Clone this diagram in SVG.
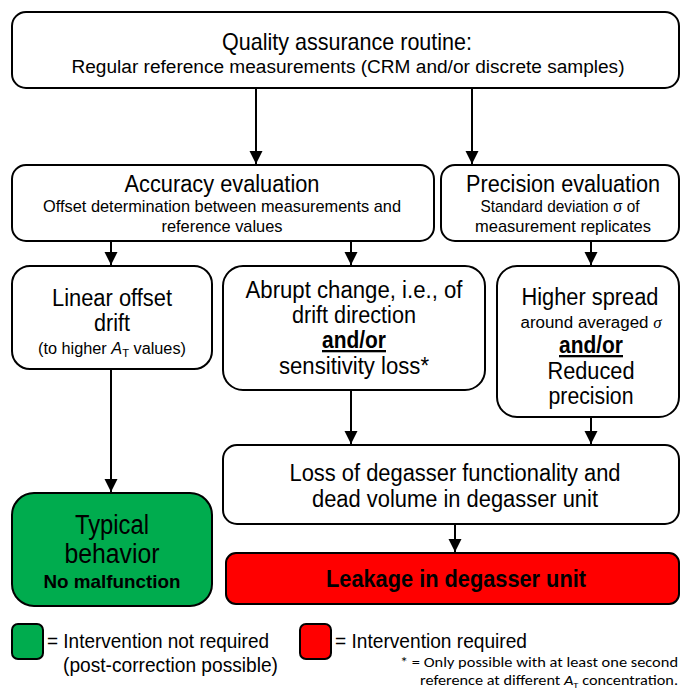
<svg xmlns="http://www.w3.org/2000/svg" width="681" height="689" viewBox="0 0 681 689">
<defs>
<style>
.box{fill:#fff;stroke:#000;stroke-width:2}
.t{font-family:"Liberation Sans Narrow","Liberation Sans",Arial,sans-serif;fill:#000;text-anchor:middle}
.s{text-anchor:start}
.cal{font-family:Carlito,Lato,"Liberation Sans",sans-serif;fill:#000}
.c line{stroke:#000;stroke-width:2}
</style>
<marker id="ah" viewBox="0 0 10 10" refX="10" refY="5" markerWidth="6.5" markerHeight="7" markerUnits="strokeWidth" orient="auto">
<path d="M0,0 L10,5 L0,10 Z" fill="#000"/>
</marker>
</defs>
<rect width="681" height="689" fill="#fff"/>

<g id="qa">
<rect class="box" x="12" y="12" width="667" height="76" rx="14"/>
<text class="t" x="347" y="50" font-size="24" textLength="250" lengthAdjust="spacingAndGlyphs">Quality assurance routine:</text>
<text class="t" x="348" y="73" font-size="18" textLength="553" lengthAdjust="spacingAndGlyphs">Regular reference measurements (CRM and/or discrete samples)</text>
</g>

<g id="accuracy">
<rect class="box" x="12" y="165" width="422" height="76" rx="14"/>
<text class="t" x="222" y="192" font-size="23" textLength="195" lengthAdjust="spacingAndGlyphs">Accuracy evaluation</text>
<text class="t" x="222" y="212" font-size="17" textLength="358" lengthAdjust="spacingAndGlyphs">Offset determination between measurements and</text>
<text class="t" x="222" y="232" font-size="17" textLength="121" lengthAdjust="spacingAndGlyphs">reference values</text>
</g>

<g id="precision">
<rect class="box" x="441" y="165" width="238" height="76" rx="14"/>
<text class="t" x="563" y="192" font-size="23" textLength="194" lengthAdjust="spacingAndGlyphs">Precision evaluation</text>
<text class="t" x="560" y="212" font-size="17" textLength="159" lengthAdjust="spacingAndGlyphs">Standard deviation σ of</text>
<text class="t" x="563" y="232" font-size="17" textLength="176" lengthAdjust="spacingAndGlyphs">measurement replicates</text>
</g>

<g id="linear">
<rect class="box" x="12" y="266" width="200" height="103" rx="18"/>
<text class="t" x="112" y="306" font-size="23" textLength="120" lengthAdjust="spacingAndGlyphs">Linear offset</text>
<text class="t" x="112" y="331" font-size="23" textLength="36" lengthAdjust="spacingAndGlyphs">drift</text>
<text class="t" x="112" y="354" font-size="16" textLength="148" lengthAdjust="spacingAndGlyphs">(to higher <tspan font-style="italic">A</tspan><tspan font-size="11" dy="3">T</tspan><tspan dy="-3"> values)</tspan></text>
</g>

<g id="abrupt">
<rect class="box" x="223" y="266" width="262" height="124" rx="20"/>
<text class="t" x="354" y="298" font-size="23" textLength="217" lengthAdjust="spacingAndGlyphs">Abrupt change, i.e., of</text>
<text class="t" x="354" y="323" font-size="23" textLength="124" lengthAdjust="spacingAndGlyphs">drift direction</text>
<text class="t" x="354" y="348" font-size="23" font-weight="bold" text-decoration="underline" textLength="64" lengthAdjust="spacingAndGlyphs">and/or</text>
<text class="t" x="354" y="374" font-size="23" textLength="150" lengthAdjust="spacingAndGlyphs">sensitivity loss*</text>
</g>

<g id="spread">
<rect class="box" x="497" y="266" width="182" height="151" rx="20"/>
<text class="t" x="590" y="305" font-size="23" textLength="137" lengthAdjust="spacingAndGlyphs">Higher spread</text>
<text class="t" x="591" y="328" font-size="16" textLength="141" lengthAdjust="spacingAndGlyphs">around averaged <tspan font-family="Liberation Serif,serif" font-style="italic">σ</tspan></text>
<text class="t" x="591" y="353" font-size="23" font-weight="bold" text-decoration="underline" textLength="64" lengthAdjust="spacingAndGlyphs">and/or</text>
<text class="t" x="591" y="379" font-size="23" textLength="87" lengthAdjust="spacingAndGlyphs">Reduced</text>
<text class="t" x="591" y="404" font-size="23" textLength="85" lengthAdjust="spacingAndGlyphs">precision</text>
</g>

<g id="loss">
<rect class="box" x="223" y="445" width="456" height="79" rx="14"/>
<text class="t" x="455" y="481" font-size="23" textLength="331" lengthAdjust="spacingAndGlyphs">Loss of degasser functionality and</text>
<text class="t" x="455" y="507" font-size="23" textLength="286" lengthAdjust="spacingAndGlyphs">dead volume in degasser unit</text>
</g>

<g id="leakage">
<rect x="226" y="553" width="453" height="51" rx="10" fill="#ff0000" stroke="#000" stroke-width="2"/>
<text class="t" x="456" y="587" font-size="23" font-weight="bold" textLength="260" lengthAdjust="spacingAndGlyphs">Leakage in degasser unit</text>
</g>

<g id="typical">
<rect x="12" y="493" width="200" height="113" rx="22" fill="#00ac4e" stroke="#000" stroke-width="2"/>
<text class="t" x="112" y="534" font-size="27" textLength="74" lengthAdjust="spacingAndGlyphs">Typical</text>
<text class="t" x="112" y="563" font-size="27" textLength="95" lengthAdjust="spacingAndGlyphs">behavior</text>
<text class="t" x="112" y="588" font-size="19" font-weight="bold" textLength="137" lengthAdjust="spacingAndGlyphs">No malfunction</text>
</g>

<g id="legend">
<rect x="12" y="624" width="31" height="35" rx="6" fill="#00ac4e" stroke="#000" stroke-width="2"/>
<text class="t s" x="47" y="648" font-size="21" textLength="222" lengthAdjust="spacingAndGlyphs">= Intervention not required</text>
<text class="t s" x="63" y="672" font-size="21" textLength="215" lengthAdjust="spacingAndGlyphs">(post-correction possible)</text>
<rect x="300" y="624" width="31" height="35" rx="6" fill="#ff0000" stroke="#000" stroke-width="2"/>
<text class="t s" x="335" y="648" font-size="21" textLength="192" lengthAdjust="spacingAndGlyphs">= Intervention required</text>
<text class="cal" x="400" y="667" font-size="14" textLength="278" lengthAdjust="spacingAndGlyphs">* = Only possible with at least one second</text>
<text class="cal" x="420" y="685" font-size="14" textLength="258" lengthAdjust="spacingAndGlyphs">reference at different <tspan font-style="italic">A</tspan><tspan font-size="9" dy="3">T</tspan><tspan dy="-3"> concentration.</tspan></text>
</g>

<g id="connectors" class="c">
<line x1="256" y1="88" x2="256" y2="164" marker-end="url(#ah)"/>
<line x1="472" y1="88" x2="472" y2="164" marker-end="url(#ah)"/>
<line x1="111" y1="241" x2="111" y2="265" marker-end="url(#ah)"/>
<line x1="351" y1="241" x2="351" y2="265" marker-end="url(#ah)"/>
<line x1="591" y1="241" x2="591" y2="265" marker-end="url(#ah)"/>
<line x1="111" y1="369" x2="111" y2="492" marker-end="url(#ah)"/>
<line x1="351" y1="390" x2="351" y2="444" marker-end="url(#ah)"/>
<line x1="591" y1="417" x2="591" y2="444" marker-end="url(#ah)"/>
<line x1="455" y1="524" x2="455" y2="552" marker-end="url(#ah)"/>
</g>
</svg>
